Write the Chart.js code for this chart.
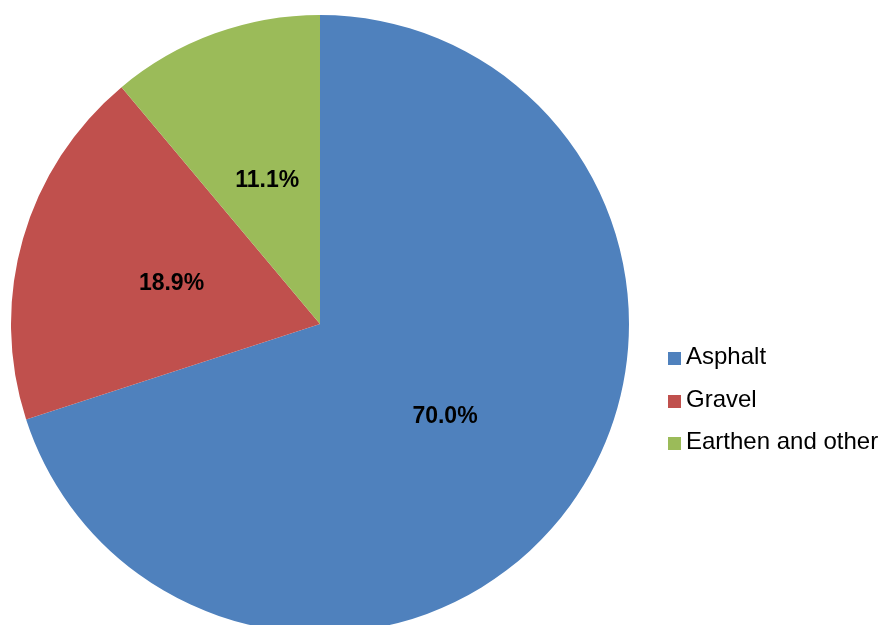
<!DOCTYPE html>
<html>
<head>
<meta charset="utf-8">
<script src="https://cdn.jsdelivr.net/npm/chart.js@4/dist/chart.umd.min.js"></script>
<style>
    html, body { margin: 0; padding: 0; background: #fff; overflow: hidden; }
    #wrap { position: relative; width: 881px; height: 625px; overflow: hidden; }
    #chartContainer { position: absolute; left: 0; top: 0; }
    #legend { position: absolute; left: 668px; top: 340px; font-family: "Liberation Sans", Arial, sans-serif; font-size: 24px; color: #000; }
    .item { position: relative; height: 42.5px; line-height: 32px; white-space: nowrap; }
    .box { display: inline-block; width: 13px; height: 13px; margin-right: 5px; vertical-align: -1px; }
</style>
</head>
<body>
<div id="wrap">
    <canvas id="chartContainer" width="881" height="648"></canvas>
    <div id="legend"></div>
</div>
<script>
const labels = ['Asphalt', 'Gravel', 'Earthen and other'];
const shares = [70.0, 18.9, 11.1];
const colors = ['#4F81BD', '#C0504D', '#9BBB59'];

// legend
let legendHtml = '';
labels.forEach((name, i) => {
    legendHtml += `<div class="item"><span class="box" style="background:${colors[i]}"></span>${name}</div>`;
});
document.getElementById('legend').innerHTML = legendHtml;

// percentage labels in the middle of each slice
const sliceLabels = {
    id: 'sliceLabels',
    afterDatasetsDraw(chart) {
        const ctx = chart.ctx;
        const meta = chart.getDatasetMeta(0);
        ctx.save();
        ctx.font = 'bold 23px "Liberation Sans", Arial, sans-serif';
        ctx.fillStyle = '#000';
        ctx.textAlign = 'center';
        ctx.textBaseline = 'middle';
        meta.data.forEach((arc, i) => {
            const p = arc.getProps(['x', 'y', 'startAngle', 'endAngle', 'outerRadius'], true);
            const mid = (p.startAngle + p.endAngle) / 2;
            const r = p.outerRadius * 0.5;
            ctx.fillText(shares[i].toFixed(1) + '%', p.x + Math.cos(mid) * r, p.y + Math.sin(mid) * r + 2);
        });
        ctx.restore();
    }
};

const ctx = document.getElementById('chartContainer').getContext('2d');
const chart = new Chart(ctx, {
    type: 'pie',
    data: {
        labels: labels,
        datasets: [{
            data: shares,
            backgroundColor: colors,
            borderWidth: 0,
            hoverOffset: 0
        }]
    },
    options: {
        responsive: false,
        animation: false,
        layout: { padding: { left: 11, top: 15, right: 252, bottom: 15 } },
        plugins: {
            legend: { display: false },
            tooltip: { enabled: false }
        }
    },
    plugins: [sliceLabels]
});
</script>
</body>
</html>
